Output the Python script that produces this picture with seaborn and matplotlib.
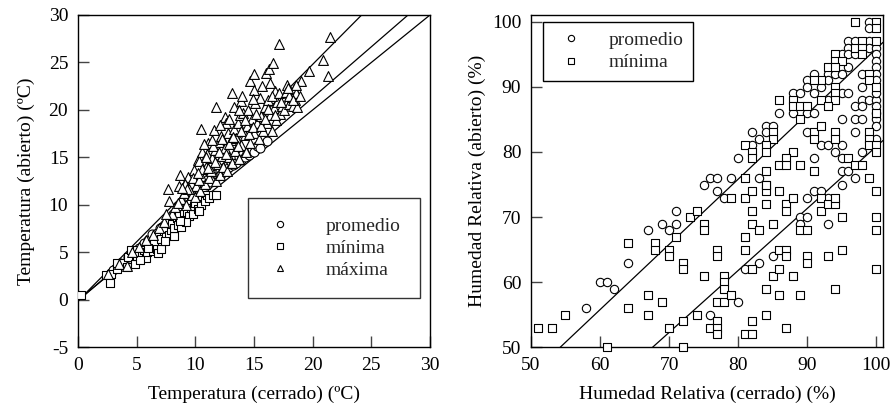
import matplotlib
matplotlib.use("Agg")
import matplotlib.pyplot as plt
from matplotlib.lines import Line2D
import numpy as np
import pandas as pd
import seaborn as sns

# ---------------- Data: left panel (temperature, ºC) ----------------
prom_pts = [(3.0,3.2),(3.6,3.9),(4.3,4.5),(4.8,5.1),(5.2,5.5),(5.6,6.0),(6.0,6.3),(6.3,6.9),(6.7,7.1),
            (7.0,7.6),(7.3,7.9),(7.6,8.2),(7.9,8.6),(8.1,9.0),(8.3,8.8),(8.5,9.4),(8.7,9.6),(8.9,9.5),
            (9.0,10.0),(9.2,10.3),(9.3,9.9),(9.5,10.6),(9.6,10.4),(9.8,11.0),(9.9,10.8),(10.1,11.2),
            (10.2,11.7),(10.4,11.4),(10.5,12.0),(10.7,11.8),(10.8,12.3),(11.0,12.1),(11.1,12.7),(11.3,12.4),
            (11.4,13.0),(11.6,12.8),(11.8,13.3),(11.9,13.0),(12.1,13.6),(12.2,13.3),(12.4,13.9),(12.6,13.6),
            (12.7,14.1),(12.9,14.0),(13.0,14.5),(13.2,14.2),(13.4,14.8),(13.5,14.4),(13.7,15.0),(13.9,14.7),
            (14.0,15.3),(14.2,15.0),(14.4,15.5),(14.6,15.3),(14.8,15.9),(15.0,15.6),(15.3,16.2),(15.5,16.0),
            (16.1,16.7)]
min_pts = [(0.3,0.5),(2.4,2.6),(2.7,1.8),(2.8,2.7),(3.3,3.3),(3.3,3.9),(3.8,3.9),(4.2,3.5),(4.3,4.5),
           (4.5,5.3),(4.9,3.8),(5.0,5.3),(5.0,4.6),(5.5,4.8),(5.6,5.3),(5.8,4.4),(5.9,5.0),(6.2,5.8),
           (6.4,5.2),(6.5,6.0),(6.7,5.4),(6.8,4.9),(6.8,6.7),(7.1,5.4),(7.1,6.4),(7.3,7.3),(7.5,6.7),
           (7.6,8.1),(7.8,6.8),(7.9,7.4),(8.0,8.0),(8.2,6.7),(8.2,7.6),(8.4,8.6),(8.5,7.9),(8.6,8.8),
           (8.8,7.7),(9.0,9.0),(9.1,8.4),(9.3,9.3),(9.5,8.8),(9.6,9.7),(9.8,9.0),(9.9,9.9),(10.0,10.2),
           (10.2,9.6),(10.3,10.7),(10.5,10.0),(10.6,10.9),(10.8,10.4),(11.0,11.0),(11.2,10.7),(11.5,11.0),
           (11.8,11.1),(10.3,9.4),(9.2,8.2),(8.7,8.3),(7.4,6.2),(6.0,5.5),(5.3,4.2)]
max_pts = [(2.6,2.7),(3.5,3.8),(4.2,3.6),(4.6,5.0),(5.2,5.6),(5.8,6.3),(6.4,6.8),(6.9,7.6),(7.3,8.2),
           (7.7,11.7),(7.8,10.4),(8.0,9.0),(8.3,9.8),(8.6,12.0),(8.7,13.2),(8.8,10.6),(9.0,11.3),(9.2,10.0),
           (9.4,12.9),(9.6,12.3),(9.7,11.0),(9.9,13.7),(10.0,10.8),(10.1,12.0),(10.2,14.7),(10.3,14.6),
           (10.4,11.5),(10.5,18.0),(10.5,13.0),(10.6,15.6),(10.8,12.2),(10.9,14.0),(11.0,15.4),(11.1,16.5),
           (11.2,12.8),(11.3,13.6),(11.4,14.9),(11.6,17.9),(11.7,15.8),(11.8,20.3),(11.8,12.5),(11.9,14.3),
           (12.0,16.6),(12.1,13.2),(12.2,17.3),(12.3,15.2),(12.4,14.0),(12.5,19.3),(12.5,16.0),(12.6,18.6),
           (12.7,13.6),(12.8,17.6),(12.9,15.0),(13.0,16.8),(13.1,21.8),(13.1,14.4),(13.3,20.3),(13.3,18.0),
           (13.4,15.7),(13.5,17.0),(13.6,18.6),(13.7,14.8),(13.8,19.5),(13.9,20.9),(13.9,16.3),(14.0,21.5),
           (14.1,19.7),(14.2,17.4),(14.3,15.6),(14.4,18.3),(14.5,20.0),(14.7,23.1),(14.7,16.5),(14.8,19.0),
           (15.0,23.8),(15.0,22.1),(15.0,17.6),(15.1,20.7),(15.3,18.6),(15.4,16.9),(15.5,21.3),(15.6,19.4),
           (15.8,17.8),(15.9,20.3),(16.0,23.9),(16.1,18.6),(16.2,21.0),(16.3,24.3),(16.4,19.5),(16.5,17.8),
           (16.6,24.9),(16.7,20.2),(16.8,22.0),(16.9,18.9),(17.0,20.8),(17.1,26.9),(17.2,19.6),(17.4,20.4),
           (17.5,21.3),(17.6,20.0),(17.8,22.6),(17.9,21.0),(18.0,20.6),(18.1,22.0),(18.2,21.4),(18.3,20.4),
           (18.4,22.2),(18.5,21.0),(18.6,21.8),(18.7,20.3),(19.0,23.0),(19.7,24.1),(20.9,25.3),(21.3,23.6),
           (21.5,27.7),
           (9.1,12.2),(9.5,11.7),(9.8,12.8),(10.3,12.6),(10.6,13.8),(10.9,15.1),(11.1,13.9),(11.5,16.2),
           (11.7,14.5),(12.0,15.6),(12.3,16.9),(12.6,15.4),(12.9,16.4),(13.2,17.2),(13.6,16.2),(13.9,17.8),
           (14.2,18.9),(14.6,17.5),(14.9,18.2),(15.2,19.6),(15.6,18.3),(15.9,19.0),(16.2,20.1),(16.5,21.5),
           (16.8,19.5),(17.1,21.8),(17.3,20.8),(17.7,21.9),(18.0,21.5),(18.3,21.1),(18.6,22.6),(18.9,21.5),
           (17.9,22.3),(16.4,22.8),(15.7,22.5),(14.9,21.2),(13.7,20.0),(12.9,19.0),(12.1,18.4),(11.4,16.8),
           (10.7,16.4),(10.2,13.4),(9.3,11.7),(8.5,10.2),(8.9,11.8),(7.5,9.0)]
temp_prom_x = [p[0] for p in prom_pts]; temp_prom_y = [p[1] for p in prom_pts]
temp_min_x = [p[0] for p in min_pts];   temp_min_y = [p[1] for p in min_pts]
temp_max_x = [p[0] for p in max_pts];   temp_max_y = [p[1] for p in max_pts]
# fitted lines (slope, intercept)
temp_lines = [(1.245, -0.1), (1.07, -0.1), (1.0, 0.0)]

# ---------------- Data: right panel (relative humidity, %) ----------------
hr_prom_pts = [(58,56),(60,60),(61,60),(62,59),(64,63),(67,68),(69,69),(70,68),(71,69),(71,71),(75,75),
               (76,55),(77,74),(78,73),(80,57),(81,62),(83,63),(85,64),(89,70),(89,69),(90,73),(90,70),
               (91,74),(92,74),(93,73),(93,69),(95,75),
               (99,100),(99,99),(96,97),(97,97),(99,97),(96,96),(99,96),(100,96),(95,95),(96,95),(97,95),
               (100,95),(100,94),(95,93),(96,93),(100,93),(93,92),(94,92),(98,92),(100,92),(90,91),(91,92),
               (93,91),(95,92),(100,91),(90,90),(92,90),(98,90),(88,89),(89,89),(91,89),(95,89),(96,89),
               (93,88),(98,88),(99,88),(100,88),(97,87),(98,87),(86,86),(88,86),(90,86),(91,86),(95,85),
               (97,85),(98,85),(100,85),(84,84),(85,84),(82,83),(84,83),(83,82),(82,81),(80,79),(76,76),
               (77,76),(79,76),(83,76),(90,83),(97,83),(100,82),(92,81),(93,81),(95,81),(94,80),(98,80),
               (95,79),(91,79),(95,77),(96,77),(97,76),(100,84),(100,86),(100,87),(100,89)]
hr_min_pts = [(51,53),(53,53),(55,55),(61,50),(64,66),(64,56),(67,58),(67,55),(68,66),(68,65),(69,57),
              (70,65),(70,64),(70,53),(71,67),(72,50),(72,54),(72,63),(72,62),(73,70),(74,71),(74,55),
              (75,69),(75,68),(75,61),(76,53),(77,65),(77,64),(77,57),(77,54),(77,53),(77,52),(78,61),
              (78,60),(78,59),(78,57),(79,73),(79,58),(81,73),(81,67),(81,65),(81,52),(82,52),(82,74),
              (82,71),(82,69),(82,62),(82,54),(83,68),(84,75),(84,74),(84,72),(84,59),(84,55),(85,69),
              (85,61),(86,74),(86,65),(86,62),(86,58),(87,72),(87,71),(87,65),(87,64),(87,53),(88,73),
              (88,61),(89,68),(89,58),(90,68),(90,64),(90,63),(92,73),(92,71),(93,72),(94,72),(94,73),
              (93,64),(94,59),(95,70),(95,65),(100,74),(100,70),(100,68),(100,62),
              (97,100),(100,100),(100,99),(98,97),(100,97),(97,96),(98,96),(94,95),(98,95),(94,94),(95,94),
              (93,93),(94,93),(99,92),(92,91),(91,91),(94,90),(99,91),(100,90),(94,89),(86,88),(88,88),
              (92,88),(94,88),(88,87),(89,87),(90,87),(93,87),(89,85),(85,83),(85,82),(81,81),(84,81),
              (82,80),(82,79),(84,80),(84,75),(81,76),(91,83),(94,83),(99,83),(91,82),(94,82),(99,82),
              (99,81),(100,81),(96,79),(92,84),(88,80),(87,79),(86,78),(87,78),(89,78),(91,77),(84,77),
              (97,78),(98,78),(99,76),(100,80),(100,86)]
hr_prom_x = [p[0] for p in hr_prom_pts]; hr_prom_y = [p[1] for p in hr_prom_pts]
hr_min_x = [p[0] for p in hr_min_pts];   hr_min_y = [p[1] for p in hr_min_pts]
hr_lines = [(1.0, -4.2), (0.95, -14.2)]

temp_ticks = [0, 5, 10, 15, 20, 25, 30]
temp_yticks = [-5, 0, 5, 10, 15, 20, 25, 30]
hr_ticks = [50, 60, 70, 80, 90, 100]

# ---------------- Styling ----------------
sns.set_theme(style="white")
plt.rcParams['font.family'] = ['Liberation Serif', 'DejaVu Serif']
plt.rcParams['axes.unicode_minus'] = False
FS = 14

fig = plt.figure(figsize=(8.93, 4.13), dpi=100)
axL = fig.add_axes([0.0873, 0.1586, 0.3942, 0.8051])
axR = fig.add_axes([0.5946, 0.1586, 0.3942, 0.8051])

edge = dict(facecolor='white', edgecolor='black', linewidth=0.8)

def style_axes(ax):
    for s in ax.spines.values():
        s.set_color('black'); s.set_linewidth(1.0); s.set_visible(True)
    ax.tick_params(axis='both', direction='in', length=8, width=1.0, color='#444444',
                   labelsize=FS, pad=7, bottom=True, left=True, top=False, right=False,
                   labelcolor='black')
    ax.grid(False)

# Left panel
dfp = pd.DataFrame({'x': temp_prom_x, 'y': temp_prom_y})
dfm = pd.DataFrame({'x': temp_min_x, 'y': temp_min_y})
dfx = pd.DataFrame({'x': temp_max_x, 'y': temp_max_y})
sns.scatterplot(data=dfp, x='x', y='y', marker='o', s=42, ax=axL, zorder=3, **edge)
sns.scatterplot(data=dfm, x='x', y='y', marker='s', s=38, ax=axL, zorder=3, **edge)
sns.scatterplot(data=dfx, x='x', y='y', marker='^', s=50, ax=axL, zorder=3, **edge)
xs = np.array([0, 30])
for m, b in temp_lines:
    axL.plot(xs, m * xs + b, color='black', lw=0.9, zorder=2)
axL.set_xlim(0, 30); axL.set_ylim(-5, 30)
axL.set_xticks(temp_ticks); axL.set_yticks(temp_yticks)
axL.set_xlabel('Temperatura (cerrado) (ºC)', fontsize=FS, labelpad=8, color='black')
axL.set_ylabel('Temperatura (abierto) (ºC)', fontsize=FS, labelpad=10, color='black')
style_axes(axL)
hL = [Line2D([], [], ls='none', marker=mk, markersize=ms, markerfacecolor='white',
             markeredgecolor='black', markeredgewidth=0.8)
      for mk, ms in [('o', 4.5), ('s', 4.2), ('^', 5)]]
legL = axL.legend(hL, ['promedio', 'mínima', 'máxima'], loc='lower right',
                  bbox_to_anchor=(0.972, 0.149), fontsize=FS, frameon=True, fancybox=False,
                  edgecolor='black', borderpad=1.0, labelspacing=0.22, handlelength=1.3,
                  handletextpad=1.7, borderaxespad=0)
legL.get_frame().set_linewidth(1.0)

# Right panel
dhp = pd.DataFrame({'x': hr_prom_x, 'y': hr_prom_y})
dhm = pd.DataFrame({'x': hr_min_x, 'y': hr_min_y})
sns.scatterplot(data=dhp, x='x', y='y', marker='o', s=36, ax=axR, zorder=3, clip_on=False, **edge)
sns.scatterplot(data=dhm, x='x', y='y', marker='s', s=30, ax=axR, zorder=3, clip_on=False, **edge)
xs = np.array([50, 101])
for m, b in hr_lines:
    axR.plot(xs, m * xs + b, color='black', lw=0.9, zorder=2)
axR.set_xlim(50, 101); axR.set_ylim(50, 101)
axR.set_xticks(hr_ticks); axR.set_yticks(hr_ticks)
axR.set_xlabel('Humedad Relativa (cerrado) (%)', fontsize=FS, labelpad=8, color='black')
axR.set_ylabel('Humedad Relativa (abierto) (%)', fontsize=FS, labelpad=4, color='black')
style_axes(axR)
hR = [Line2D([], [], ls='none', marker=mk, markersize=ms, markerfacecolor='white',
             markeredgecolor='black', markeredgewidth=0.8)
      for mk, ms in [('o', 4.5), ('s', 4.2)]]
legR = axR.legend(hR, ['promedio', 'mínima'], loc='upper left',
                  bbox_to_anchor=(0.033, 0.98), fontsize=FS, frameon=True, fancybox=False,
                  edgecolor='black', borderpad=0.5, labelspacing=0.25, handlelength=1.9,
                  handletextpad=1.0, borderaxespad=0, framealpha=1)
legR.get_frame().set_linewidth(1.0)

fig.savefig('out.png', dpi=100)
